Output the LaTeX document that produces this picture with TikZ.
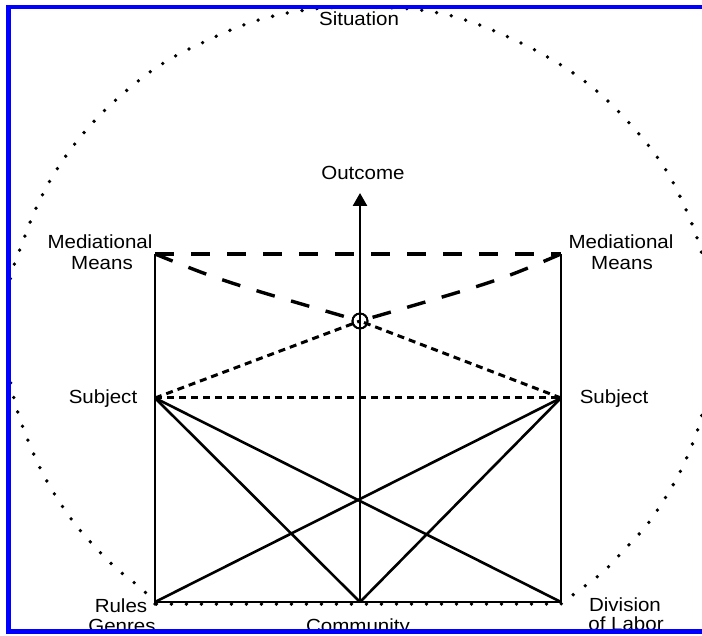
\documentclass[tikz,border=0pt]{standalone}
\usepackage{fontspec}
\setmainfont{Liberation Sans}[FakeStretch=1.08]
\usetikzlibrary{arrows.meta}
\begin{document}
\begin{tikzpicture}[x=1pt,y=-1pt,
  lbl/.style={font=\fontsize{19}{21}\selectfont, inner sep=0pt, anchor=base},
  solidline/.style={line width=2.6pt},
  longdash/.style={line width=3.4pt, dash pattern=on 19pt off 17pt},
  shortdash/.style={line width=3pt, dash pattern=on 7pt off 5pt},
  dotline/.style={line width=3.8pt, line cap=round, dash pattern=on 0pt off 15pt},
  hub/.style={circle, draw, line width=1.8pt, minimum size=15pt, inner sep=0pt}]
\useasboundingbox (0,0) rectangle (702,636);
\fill[white] (0,0) rectangle (702,636);
\begin{scope}
\clip (10.5,9.5) rectangle (702,629);
% dotted situation boundary
\draw[dotline] plot[smooth, tension=0.55] coordinates {(155,604) (142,589) (117,569) (95,547) (75,524) (57,498) (42,472) (29,443) (18,413) (11,385) (6,350) (5,320) (8,290) (14,265) (22,244) (33,215) (47,186) (63,160) (82,135) (103,112) (126,91) (150,72) (177,55) (204,42) (233,29) (262,19) (293,12) (325,8) (360,7) (395,8) (420,10) (448,15) (477,24) (506,36) (533,49) (561,65) (587,83) (610,103) (632,126) (652,150) (669,175) (683,203) (695,232) (704,262) (710,295) (712,330) (709,370) (702,415) (692,445) (679,474) (664,500) (646,526) (625,549) (603,572) (578,591) (561,604)} -- cycle;

% key points
\coordinate (MML) at (155,254);
\coordinate (MMR) at (561,254);
\coordinate (SL) at (155,398);
\coordinate (SR) at (561,398);
\coordinate (RG) at (155,602);
\coordinate (DL) at (561,602);
\coordinate (CM) at (360,602);
\coordinate (TIP) at (360,193);
\node[hub] (C) at (360,321) {};

% rectangle sides
\draw[solidline] (MML) -- (RG) -- (DL) -- (MMR);
\draw[longdash] (MML) -- (MMR);
% mediational means to hub
\draw[longdash] (MML) .. controls (222,281) .. (C.center);
\draw[longdash] (MMR) .. controls (498,281) .. (C.center);
% subjects
\draw[shortdash] (SL) -- (C.center);
\draw[shortdash] (SR) -- (C.center);
\draw[shortdash] (SL) -- (SR);
% solid diagonals
\draw[solidline] (SL) -- (CM);
\draw[solidline] (SL) -- (DL);
\draw[solidline] (SR) -- (CM);
\draw[solidline] (SR) -- (RG);
% outcome arrow
\draw[solidline, -{Triangle[length=13pt,width=14pt]}] (CM) -- (TIP);
\node[hub] at (C) {};

% labels
\node[lbl, fill=white, inner sep=2pt] (sit) at (359,26) {Situation};
\node[lbl] (out) at (363,180) {Outcome};
\node[lbl] (mml1) at (100,249) {Mediational};
\node[lbl] (mml2) at (102,270) {Means};
\node[lbl] (mmr1) at (621,249) {Mediational};
\node[lbl] (mmr2) at (622,270) {Means};
\node[lbl] (sl) at (103,403) {Subject};
\node[lbl] (sr) at (614,403) {Subject};
\node[lbl] (r1) at (121,612) {Rules};
\node[lbl] (r2) at (122,632) {Genres};
\node[lbl] (com) at (358,632) {Community};
\node[lbl] (d1) at (625,611) {Division};
\node[lbl] (d2) at (626,630) {of Labor};
\end{scope}
\draw[blue, line width=4.5pt] (702,7) -- (8.5,7) -- (8.5,631.5) -- (702,631.5);
\end{tikzpicture}
\end{document}
